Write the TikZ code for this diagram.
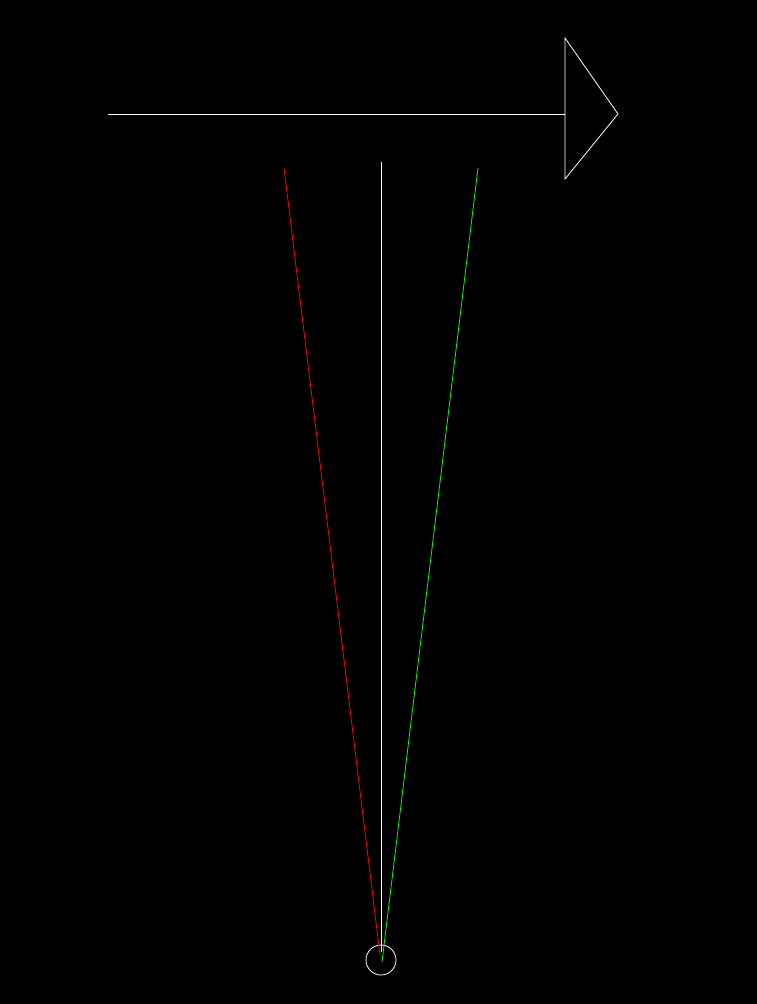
\documentclass[tikz,border=0pt]{standalone}
\usepackage{tikz}
\usetikzlibrary{calc}
\tikzset{
  ray/.style={line width=0.8pt},
  eyering/.style={circle, draw=white, line width=0.8pt, minimum size=30pt, inner sep=0pt}
}
\begin{document}
\begin{tikzpicture}[x=1pt,y=-1pt]
    \useasboundingbox (0,0) rectangle (756,1004);
    \fill[black] (-2,-2) rectangle (758,1006);
    % motion arrow
    \coordinate (tail) at (108,114);
    \coordinate (base) at (565,114);
    \coordinate (up) at (565,38);
    \coordinate (tip) at (618,114);
    \coordinate (down) at (565,179);
    \draw[white, ray] (tail) -- (base);
    \draw[white, ray, line join=miter] (up) -- (tip) -- (down) -- cycle;
    % observer
    \node[eyering] (eye) at (381,960) {};
    \coordinate (rtop) at (284,168);
    \coordinate (mtop) at (381,162);
    \coordinate (gtop) at (478,168);
    \coordinate (rend) at (380,955);
    \coordinate (mend) at (381,952);
    \coordinate (gend) at (382,962);
    % sight lines
    \draw[red, ray] (rtop) -- (rend);
    \draw[white, ray] (mtop) -- (mend);
    \draw[green, ray] (gtop) -- (gend);
\end{tikzpicture}
\end{document}
